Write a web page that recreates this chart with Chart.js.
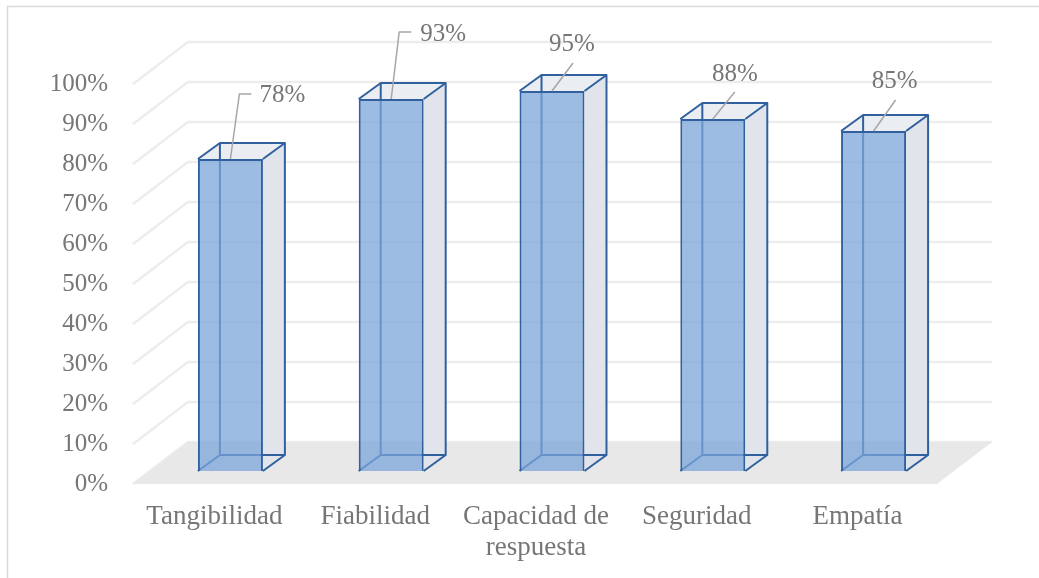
<!DOCTYPE html>
<html>
<head>
<meta charset="utf-8">
<script src="https://cdn.jsdelivr.net/npm/chart.js@4.4.0/dist/chart.umd.min.js"></script>
<style>
  html, body { margin: 0; padding: 0; background: #fff; }
  #wrap { width: 1039px; height: 578px; position: relative; }
</style>
</head>
<body>
<div id="wrap"><canvas id="myChart"></canvas></div>
<script>
const categories = ['Tangibilidad', 'Fiabilidad', ['Capacidad de', 'respuesta'], 'Seguridad', 'Empatía'];
const values = [78, 93, 95, 88, 85];
const yTicks = [0, 10, 20, 30, 40, 50, 60, 70, 80, 90, 100];

// label leader styles, relative to the top of each bar (excel put them by hand)
const labelStyle = [
    { type: 'elbow', lx: 9, ly: -65, tx: 29, ty: -64 },
    { type: 'elbow', lx: 8, ly: -67, tx: 29, ty: -65 },
    { type: 'diag', lx: 21, ly: -28, tx: 20, ty: -47 },
    { type: 'diag', lx: 22, ly: -27, tx: 22, ty: -45 },
    { type: 'diag', lx: 22, ly: -31, tx: 21, ty: -50 },
];

const textColor = '#767676';
const edge = '#30609e';
const depth = { dx: 22, dy: -16 };   // bar box depth
const front = { dx: -17, dy: 13 };   // floor front / label plane
const wall = { dx: 38, dy: -29 };    // back wall

const box3d = {
    id: 'box3d',
    beforeDraw(chart) {
        const ctx = chart.ctx;
        ctx.save();
        ctx.strokeStyle = '#d9d9d9';
        ctx.lineWidth = 1.5;
        ctx.beginPath();
        ctx.moveTo(7.5, 578);
        ctx.lineTo(7.5, 6.5);
        ctx.lineTo(1039, 6.5);
        ctx.stroke();
        ctx.restore();
    },
    beforeDatasetsDraw(chart) {
        const ctx = chart.ctx;
        const ys = chart.scales.y;
        const a = chart.chartArea;
        ctx.save();
        // gridlines on the wall
        ctx.strokeStyle = '#ededed';
        ctx.lineWidth = 2.5;
        yTicks.forEach(v => {
            const y = ys.getPixelForValue(v);
            ctx.beginPath();
            ctx.moveTo(a.left + front.dx, y + front.dy);
            ctx.lineTo(a.left + wall.dx, y + wall.dy);
            ctx.lineTo(a.right + wall.dx, y + wall.dy);
            ctx.stroke();
        });
        // floor
        const y0 = ys.getPixelForValue(0);
        ctx.fillStyle = '#e8e8e8';
        ctx.beginPath();
        ctx.moveTo(a.left + front.dx, y0 + front.dy);
        ctx.lineTo(a.right + front.dx, y0 + front.dy);
        ctx.lineTo(a.right + wall.dx, y0 + wall.dy);
        ctx.lineTo(a.left + wall.dx, y0 + wall.dy);
        ctx.closePath();
        ctx.fill();

        // back parts of the boxes
        chart.getDatasetMeta(0).data.forEach(bar => {
            const l = bar.x - bar.width / 2, r = bar.x + bar.width / 2;
            const t = bar.y, b = bar.base;
            // side face
            ctx.fillStyle = '#e1e5eb';
            ctx.beginPath();
            ctx.moveTo(r, t); ctx.lineTo(r + depth.dx, t + depth.dy);
            ctx.lineTo(r + depth.dx, b + depth.dy); ctx.lineTo(r, b);
            ctx.closePath(); ctx.fill();
            // top face
            ctx.fillStyle = '#eaedf2';
            ctx.beginPath();
            ctx.moveTo(l, t); ctx.lineTo(l + depth.dx, t + depth.dy);
            ctx.lineTo(r + depth.dx, t + depth.dy); ctx.lineTo(r, t);
            ctx.closePath(); ctx.fill();
            // hidden edges
            ctx.strokeStyle = edge;
            ctx.lineWidth = 2;
            ctx.beginPath();
            ctx.moveTo(l + depth.dx, t + depth.dy);
            ctx.lineTo(l + depth.dx, b + depth.dy);
            ctx.lineTo(r + depth.dx, b + depth.dy);
            ctx.moveTo(l, b);
            ctx.lineTo(l + depth.dx, b + depth.dy);
            ctx.stroke();
        });
        ctx.restore();
    },
    afterDatasetsDraw(chart) {
        const ctx = chart.ctx;
        ctx.save();
        ctx.lineJoin = 'round';
        chart.getDatasetMeta(0).data.forEach((bar, i) => {
            const l = bar.x - bar.width / 2, r = bar.x + bar.width / 2;
            const t = bar.y, b = bar.base;
            ctx.strokeStyle = edge;
            ctx.lineWidth = 2;
            ctx.beginPath();
            ctx.moveTo(l, t);
            ctx.lineTo(l + depth.dx, t + depth.dy);
            ctx.lineTo(r + depth.dx, t + depth.dy);
            ctx.lineTo(r, t);
            ctx.moveTo(r + depth.dx, t + depth.dy);
            ctx.lineTo(r + depth.dx, b + depth.dy);
            ctx.lineTo(r, b);
            ctx.stroke();

            // data labels
            const s = labelStyle[i];
            ctx.strokeStyle = '#a6a6a6';
            ctx.lineWidth = 1.5;
            ctx.beginPath();
            ctx.moveTo(bar.x, t);
            ctx.lineTo(bar.x + s.lx, t + s.ly);
            if (s.type === 'elbow') ctx.lineTo(bar.x + s.lx + 12, t + s.ly);
            ctx.stroke();
            ctx.fillStyle = textColor;
            ctx.font = '25px "Liberation Serif"';
            ctx.textBaseline = 'middle';
            ctx.textAlign = s.type === 'elbow' ? 'left' : 'center';
            ctx.fillText(values[i] + '%', bar.x + s.tx, t + s.ty);
        });
        ctx.restore();
    }
};

const data = {
    labels: categories,
    datasets: [{
        data: values,
        backgroundColor: 'rgba(122, 164, 218, 0.74)',
        borderColor: edge,
        borderWidth: 2,
        categoryPercentage: 1,
        barPercentage: 0.404,
    }]
};

const config = {
    type: 'bar',
    data: data,
    options: {
        responsive: true,
        maintainAspectRatio: false,
        animation: false,
        layout: { padding: { top: 71, right: 85, left: 0, bottom: 0 } },
        plugins: { legend: { display: false }, tooltip: { enabled: false } },
        scales: {
            x: {
                grid: { display: false, drawTicks: false },
                border: { display: false },
                afterFit: s => { s.height = 107; },
                ticks: {
                    color: textColor,
                    font: { family: 'Liberation Serif', size: 27, lineHeight: 1.17 },
                    padding: 30,
                    labelOffset: -16,
                    maxRotation: 0,
                    autoSkip: false,
                }
            },
            y: {
                min: 0,
                max: 100,
                grid: { display: false, drawTicks: false },
                border: { display: false },
                afterFit: s => { s.width = 150; },
                afterBuildTicks: s => { s.ticks = yTicks.map(v => ({ value: v })); },
                ticks: {
                    color: textColor,
                    font: { family: 'Liberation Serif', size: 25 },
                    padding: 42,
                    labelOffset: 13,
                    callback: v => v + '%',
                }
            }
        }
    },
    plugins: [box3d]
};

const myChart = new Chart(document.getElementById('myChart'), config);
</script>
</body>
</html>
